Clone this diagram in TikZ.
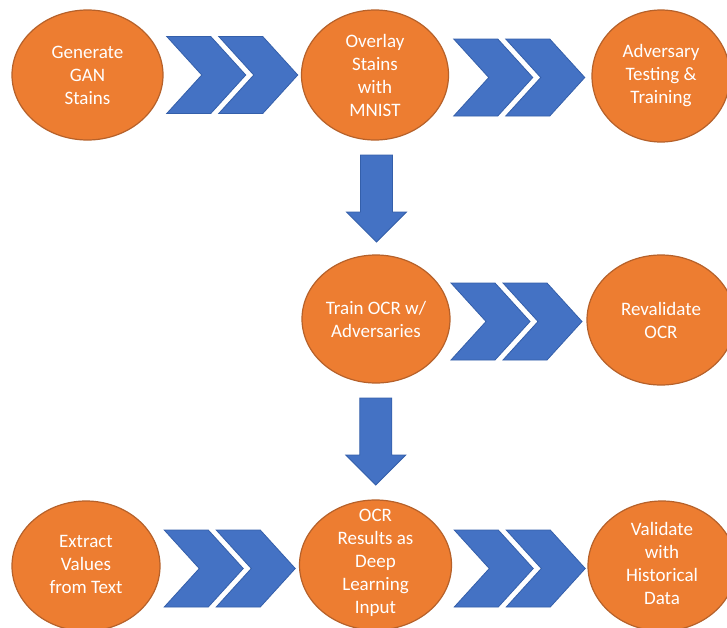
\documentclass[tikz,border=0pt]{standalone}
\usepackage{fontspec}
\setmainfont{Carlito}
\usetikzlibrary{shapes.geometric,calc}
\definecolor{orfill}{HTML}{ED7D31}
\definecolor{ordraw}{HTML}{B6612A}
\definecolor{blfill}{HTML}{4472C4}
\definecolor{bldraw}{HTML}{345FAA}
\tikzset{
  blob/.style={ellipse, fill=orfill, draw=ordraw, line width=1.2pt, inner sep=0pt},
  txt/.style={align=center, text=white, font=\fontsize{19}{23}\selectfont, inner sep=0pt},
  arrowshape/.style={fill=blfill, draw=bldraw, line width=0.8pt, line join=miter},
  chevpair/.pic={
    \path[arrowshape] (-65.5,-38.5) -- (-21.5,-38.5) -- (13.5,0) -- (-21.5,38.5) -- (-65.5,38.5) -- (-30.5,0) -- cycle;
    \path[arrowshape] (-13.5,-38.5) -- (30.5,-38.5) -- (65.5,0) -- (30.5,38.5) -- (-13.5,38.5) -- (21.5,0) -- cycle;
  },
  downarrow/.pic={
    \path[arrowshape] (-16,-43.5) -- (16,-43.5) -- (16,13.5) -- (30,13.5) -- (0,43.5) -- (-30,13.5) -- (-16,13.5) -- cycle;
  }
}
\begin{document}
\begin{tikzpicture}[x=1pt,y=-1pt]
\useasboundingbox (0,0) rectangle (727,627);
\clip (0,0) rectangle (727,627);
\fill[white] (0,0) rectangle (727,627);
% ellipses
\node[blob, minimum width=151pt, minimum height=130pt] (g1) at (87.5,75) {};
\node[blob, minimum width=147pt, minimum height=130pt] (g2) at (375,75) {};
\node[blob, minimum width=138pt, minimum height=132pt] (g3) at (661,76) {};
\node[blob, minimum width=148pt, minimum height=128pt] (g4) at (376,319) {};
\node[blob, minimum width=148pt, minimum height=130pt] (g5) at (661,320) {};
\node[blob, minimum width=148pt, minimum height=130pt] (g6) at (86,566) {};
\node[blob, minimum width=152pt, minimum height=130pt] (g7) at (375.5,565) {};
\node[blob, minimum width=148pt, minimum height=130pt] (g8) at (662,566) {};
% texts
\node[txt] (t1) at (g1) {Generate\\GAN\\Stains};
\node[txt] (t2) at (g2) {Overlay\\Stains\\with\\MNIST};
\node[txt] (t3) at (g3) {Adversary\\Testing \&\\Training};
\node[txt] (t4) at (g4) {Train OCR w/\\Adversaries};
\node[txt] (t5) at (g5) {Revalidate\\OCR};
\node[txt] (t6) at ($(g6)+(0,-2)$) {Extract\\Values\\from Text};
\node[txt] (t7) at ($(g7)+(0,-2)$) {OCR\\Results as\\Deep\\Learning\\Input};
\node[txt] (t8) at ($(g8)+(0,-3)$) {Validate\\with\\Historical\\Data};
% chevron connectors
\pic at ($(g1.east)!0.5!(g2.west)$) {chevpair};
\pic at ($(g2.east)!0.5!(g3.west)+(-1,2)$) {chevpair};
\pic at ($(g4.east)!0.5!(g5.west)+(-2,2)$) {chevpair};
\pic at ($(g6.east)!0.5!(g7.west)+(0,3)$) {chevpair};
\pic at ($(g7.east)!0.5!(g8.west)+(0,3)$) {chevpair};
% down arrows
\pic at ($(g2.south)!0.5!(g4.north)+(1,1)$) {downarrow};
\pic at ($(g4.south)!0.5!(g7.north)$) {downarrow};
\end{tikzpicture}
\end{document}
